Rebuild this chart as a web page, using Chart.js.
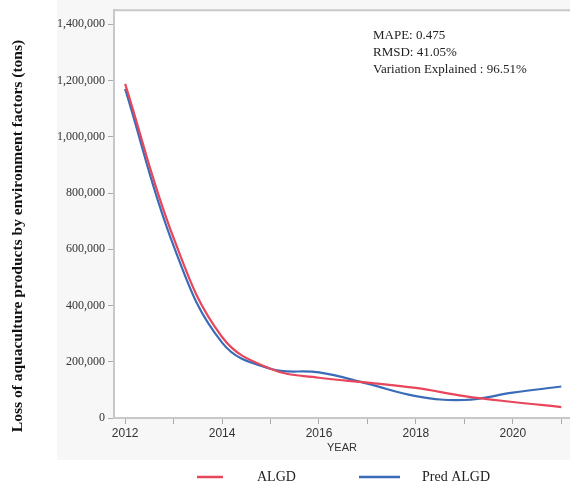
<!DOCTYPE html>
<html>
<head>
<meta charset="utf-8">
<script src="https://cdn.jsdelivr.net/npm/chart.js@4.4.0/dist/chart.umd.min.js"></script>
<style>
  html, body { margin: 0; padding: 0; background: #fff; }
  #wrap { width: 570px; height: 484px; }
</style>
</head>
<body>
<div id="wrap"><canvas id="chart" width="570" height="484"></canvas></div>
<script>
// yearly losses, actual vs. predicted (tons)
const years = [2012, 2013, 2014, 2015, 2016, 2017, 2018, 2019, 2020, 2021];
const algd = [1188000, 640000, 288000, 175000, 143000, 126000, 107000, 78000, 57000, 39000];
const predAlgd = [1170000, 612000, 268000, 175000, 162000, 122000, 78000, 64000, 90000, 112000];
const yTicks = [0, 200000, 400000, 600000, 800000, 1000000, 1200000, 1400000];
const xTicks = [2012, 2013, 2014, 2015, 2016, 2017, 2018, 2019, 2020, 2021];
const stats = ['MAPE: 0.475', 'RMSD: 41.05%', 'Variation Explained : 96.51%'];
const seriesNames = ['ALGD', 'Pred ALGD'];
const yTitle = 'Loss of aquaculture products by environment factors (tons)';
const red = '#e8465a';
const blue = '#3a6cb8';

const serif = 'Liberation Serif, Times New Roman, serif';
const sans = 'Liberation Sans, Arial, sans-serif';

const toPoints = arr => arr.map((v, i) => ({ x: years[i], y: v }));

// panel background, plot frame, axis title, stats text and the legend row
const decor = {
  id: 'decor',
  beforeDraw(chart) {
    const { ctx, chartArea: a } = chart;
    ctx.save();
    ctx.fillStyle = '#fff';
    ctx.fillRect(0, 0, chart.width, chart.height);
    ctx.fillStyle = '#f7f7f7';
    ctx.fillRect(57, 0, chart.width - 57, 460);
    ctx.fillStyle = '#fff';
    ctx.fillRect(a.left, a.top, a.right - a.left, a.bottom - a.top);
    ctx.restore();
  },
  afterDraw(chart) {
    const { ctx, chartArea: a } = chart;
    ctx.save();
    ctx.strokeStyle = '#c8c8c8';
    ctx.lineWidth = 2;
    ctx.beginPath();
    ctx.moveTo(a.left - 1, a.top);
    ctx.lineTo(a.right, a.top);
    ctx.stroke();

    // vertical y-axis title
    ctx.save();
    ctx.translate(18, 236);
    ctx.rotate(-Math.PI / 2);
    ctx.fillStyle = '#111';
    ctx.font = 'bold 15.5px ' + serif;
    ctx.textAlign = 'center';
    ctx.textBaseline = 'middle';
    ctx.fillText(yTitle, 0, 0);
    ctx.restore();

    ctx.fillStyle = '#222';
    ctx.font = '13px ' + serif;
    ctx.textBaseline = 'middle';
    ctx.textAlign = 'left';
    stats.forEach((s, i) => ctx.fillText(s, 373, 36 + i * 17));

    // legend
    const legend = [
      { name: seriesNames[0], color: red, x0: 197, x1: 223, tx: 257 },
      { name: seriesNames[1], color: blue, x0: 359, x1: 400, tx: 422 }
    ];
    ctx.font = '14px ' + serif;
    ctx.lineWidth = 2.5;
    legend.forEach(l => {
      ctx.strokeStyle = l.color;
      ctx.beginPath();
      ctx.moveTo(l.x0, 477);
      ctx.lineTo(l.x1, 477);
      ctx.stroke();
      ctx.fillStyle = '#222';
      ctx.fillText(l.name, l.tx, 477);
    });
    ctx.restore();
  }
};

new Chart(document.getElementById('chart'), {
  type: 'line',
  data: {
    datasets: [
      { label: seriesNames[0], data: toPoints(algd), borderColor: red },
      { label: seriesNames[1], data: toPoints(predAlgd), borderColor: blue }
    ]
  },
  options: {
    responsive: false,
    animation: false,
    layout: { padding: { left: 0, right: 0, top: 10, bottom: 28 } },
    elements: {
      point: { radius: 0 },
      line: { borderWidth: 2.2, tension: 0.4, fill: false }
    },
    plugins: { legend: { display: false }, tooltip: { enabled: false } },
    scales: {
      x: {
        type: 'linear',
        min: 2011.77,
        max: 2021.18,
        afterBuildTicks: s => { s.ticks = xTicks.map(v => ({ value: v })); },
        ticks: {
          autoSkip: false,
          maxRotation: 0,
          padding: 2,
          color: '#333',
          font: { family: sans, size: 12 },
          callback: v => (v % 2 === 0 ? String(v) : '')
        },
        grid: { drawOnChartArea: false, tickLength: 6, tickColor: '#aaa' },
        border: { color: '#c8c8c8', width: 2 },
        title: {
          display: true,
          text: 'YEAR',
          color: '#333',
          font: { family: sans, size: 11 },
          padding: { top: 0, bottom: 1 }
        },
        afterFit: s => { s.height = 38; }
      },
      y: {
        min: 0,
        max: 1450000,
        afterBuildTicks: s => { s.ticks = yTicks.map(v => ({ value: v })); },
        ticks: {
          autoSkip: false,
          padding: 3,
          color: '#333',
          font: { family: serif, size: 12 },
          callback: v => v.toLocaleString('en-US')
        },
        grid: { drawOnChartArea: false, tickLength: 6, tickColor: '#aaa' },
        border: { color: '#c8c8c8', width: 2 },
        afterFit: s => { s.width = 114; }
      }
    }
  },
  plugins: [decor]
});
</script>
</body>
</html>
